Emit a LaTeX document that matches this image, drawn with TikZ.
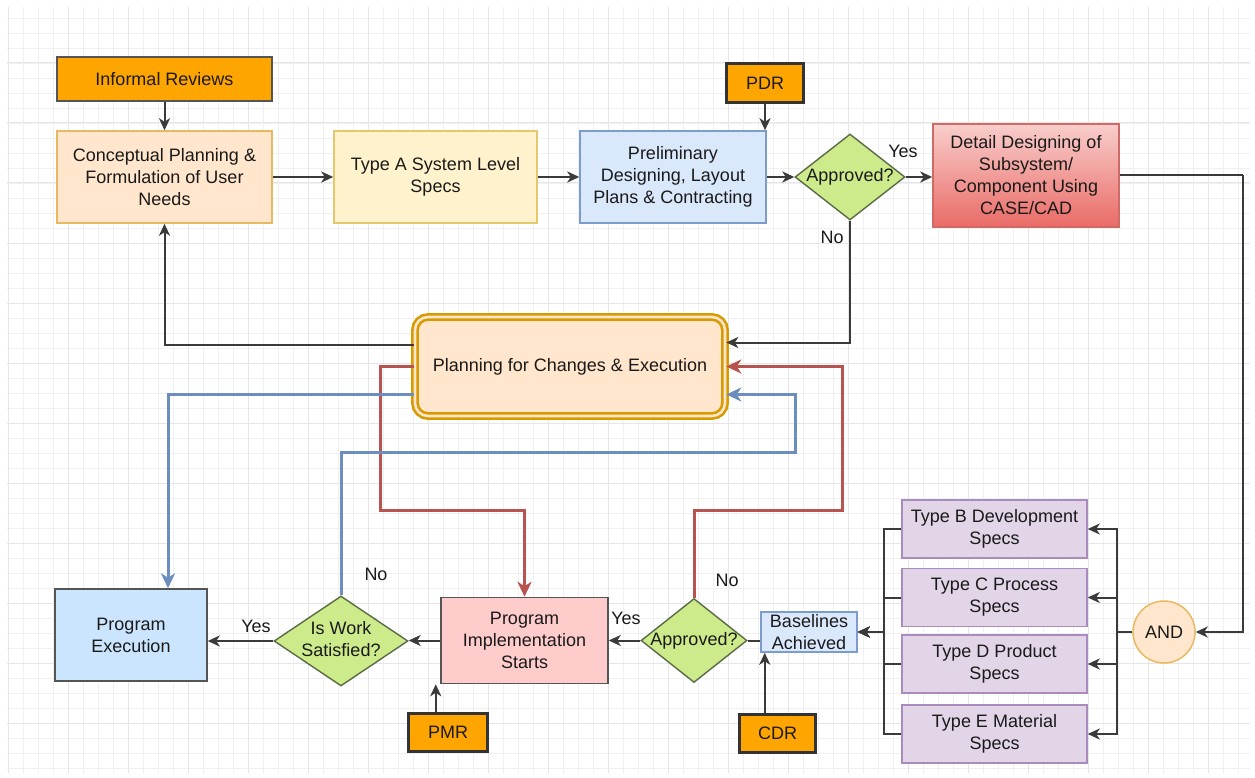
\documentclass[tikz,border=0pt]{standalone}
\usepackage{fontspec}
\setmainfont{Liberation Sans}
\usetikzlibrary{arrows.meta,shapes.geometric,calc}

\definecolor{txt}{HTML}{1A1A1A}
\definecolor{gridmin}{HTML}{F0F0F0}
\definecolor{gridmaj}{HTML}{E6E6E6}
\definecolor{orng}{HTML}{FFA500}
\definecolor{dgry}{HTML}{333333}
\definecolor{mgry}{HTML}{555555}
\definecolor{lnk}{HTML}{3A3A3A}
\definecolor{cpfill}{HTML}{FFE6CC}
\definecolor{cpbd}{HTML}{E8B960}
\definecolor{tafill}{HTML}{FFF2CC}
\definecolor{tabd}{HTML}{E3C86E}
\definecolor{bluefill}{HTML}{DAE8FC}
\definecolor{bluebd}{HTML}{7C9CCB}
\definecolor{grn}{HTML}{CDEB8B}
\definecolor{grnbd}{HTML}{5A6B45}
\definecolor{ddtop}{HTML}{F8CECC}
\definecolor{ddbot}{HTML}{EA6B66}
\definecolor{ddbd}{HTML}{D06A66}
\definecolor{gold}{HTML}{D79B00}
\definecolor{andbd}{HTML}{E8B960}
\definecolor{purfill}{HTML}{E1D5E7}
\definecolor{purbd}{HTML}{A98BBD}
\definecolor{pifill}{HTML}{FFCCCC}
\definecolor{pefill}{HTML}{CCE5FF}
\definecolor{redc}{HTML}{B85450}
\definecolor{bluec}{HTML}{6C8EBF}

\tikzset{
  base/.style={font=\fontsize{18pt}{22pt}\selectfont, text=txt, align=center, inner sep=2pt},
  box/.style={base, rectangle, draw, line width=1.5pt},
  review/.style={box, fill=orng, draw=dgry, line width=3.5pt},
  dia/.style={base, diamond, draw=grnbd, fill=grn, line width=1.4pt, inner sep=0pt},
  spec/.style={box, fill=purfill, draw=purbd, minimum width=185pt, minimum height=58pt},
  lab/.style={font=\fontsize{18pt}{22pt}\selectfont, text=txt, inner sep=0pt},
  conn/.style={draw=lnk, line width=2pt},
  arr/.style={conn, -{Stealth[length=12pt,width=11pt,inset=3.5pt]}},
  redarr/.style={draw=redc, line width=3pt, -{Stealth[length=15pt,width=14pt,inset=4.5pt]}},
  bluearr/.style={draw=bluec, line width=3pt, -{Stealth[length=15pt,width=14pt,inset=4.5pt]}},
}

\begin{document}
\begin{tikzpicture}[x=1pt,y=-1pt]
\useasboundingbox (0,0) rectangle (1255,778);
\fill[white] (0,0) rectangle (1255,778);

% background grid
\foreach \gx in {8,23,...,1250} \draw[gridmin, line width=0.9pt] (\gx,7) -- (\gx,773);
\foreach \gy in {18,33,...,773} \draw[gridmin, line width=0.9pt] (7,\gy) -- (1250,\gy);
\foreach \gx in {8,68,...,1250} \draw[gridmaj, line width=1pt] (\gx,7) -- (\gx,773);
\foreach \gy in {63,123,...,773} \draw[gridmaj, line width=1pt] (7,\gy) -- (1250,\gy);

% top row
\node[box, fill=orng, draw=mgry, minimum width=215pt, minimum height=44pt] (ir) at (164.5,79) {Informal Reviews};
\node[box, fill=cpfill, draw=cpbd, minimum width=215pt, minimum height=92pt] (cp) at (164.5,177)
  {Conceptual Planning \&\\Formulation of User\\Needs};
\node[box, fill=tafill, draw=tabd, minimum width=203pt, minimum height=92pt] (ta) at (435.5,177)
  {Type A System Level\\Specs};
\node[box, fill=bluefill, draw=bluebd, minimum width=186pt, minimum height=92pt] (pd) at (673,177)
  {Preliminary\\Designing, Layout\\Plans \& Contracting};
\node[review, minimum width=77pt, minimum height=39pt] (pdr) at (765,83) {PDR};
\node[dia, minimum width=110pt, minimum height=86pt] (ap1) at (850,177) {\makebox[0pt]{Approved?}};
\node[box, top color=ddtop, bottom color=ddbot, draw=ddbd, minimum width=186pt, minimum height=103pt] (dd) at (1026,175.5)
  {Detail Designing of\\Subsystem/\\Component Using\\CASE/CAD};

% central planning block
\node[base, draw=gold, line width=2.6pt, double=cpfill, double distance=2.6pt, fill=cpfill,
      rounded corners=13pt, minimum width=310pt, minimum height=99pt] (pc) at (570,366.5)
  {Planning for Changes \& Execution};

% right column
\node[base, circle, draw=andbd, fill=cpfill, line width=1.5pt, minimum size=62pt, inner sep=0pt] (and) at (1164,632) {AND};
\node[spec] (tb) at (994.5,529) {Type B Development\\Specs};
\node[spec] (tc) at (994.5,597.5) {Type C Process\\Specs};
\node[spec] (td) at (994.5,664) {Type D Product\\Specs};
\node[spec] (te) at (994.5,734) {Type E Material\\Specs};

% bottom row
\node[box, fill=bluefill, draw=bluebd, minimum width=96pt, minimum height=40pt, inner sep=0pt] (bl) at (809,632)
  {Baselines\\Achieved};
\node[review, minimum width=76pt, minimum height=38pt] (cdr) at (777.5,733.5) {CDR};
\node[dia, minimum width=106pt, minimum height=84pt] (ap2) at (694,640.5) {\makebox[0pt]{Approved?}};
\node[box, fill=pifill, draw=mgry, minimum width=167pt, minimum height=86pt] (pi) at (524.5,640.5)
  {Program\\Implementation\\Starts};
\node[review, minimum width=79pt, minimum height=38pt] (pmr) at (448,732.5) {PMR};
\node[dia, minimum width=134pt, minimum height=90pt] (iw) at (341,641)
  {\makebox[0pt]{\begin{tabular}{@{}c@{}}Is Work\\Satisfied?\end{tabular}}};
\node[box, fill=pefill, draw=mgry, minimum width=152pt, minimum height=92pt] (pe) at (131,635)
  {Program\\Execution};

% edge labels
\node[lab] (yes1) at (903,151) {Yes};
\node[lab] (no1) at (832,237) {No};
\node[lab] (no2) at (727,580) {No};
\node[lab] (yes2) at (626,618) {Yes};
\node[lab] (no3) at (376,574) {No};
\node[lab] (yes3) at (256,626) {Yes};

% bend points
\coordinate (rtx) at (1243,0);
\coordinate (busR) at (1117,0);
\coordinate (busL) at (884,0);
\coordinate (rd1) at (380,510);
\coordinate (ru1) at (842,510);
\coordinate (bu1) at (795,452);
\coordinate (cdrtop) at ([xshift=27pt]cdr.north west);
\coordinate (pmrtop) at ([xshift=29pt]pmr.north west);

% top row flow
\draw[arr] (ir) -- (cp);
\draw[arr] (cp) -- (ta);
\draw[arr] (ta) -- (pd);
\draw[arr] (pdr.south) -- (pdr.south |- pd.north);
\draw[arr] (pd.east) -- (ap1.west);
\draw[arr] (ap1.east) -- (dd.west |- ap1.east);
\draw[conn] (dd.east) -- (dd.east -| rtx);
\draw[arr] (dd.east -| rtx) |- (and.east);

% AND fan-out to the spec boxes
\foreach \s in {tb,tc,td,te}
  \draw[arr] (and.west) -- (and.west -| busR) |- (\s.east);

% spec boxes gathered into the baselines
\foreach \s in {tb,tc,td,te}
  \draw[arr] (\s.west) -- (\s.west -| busL) |- (bl.east);

\draw[arr] (cdrtop) -- (cdrtop |- bl.south);
\draw[conn] (bl.west |- ap2.east) -- (ap2.east);
\draw[arr] (ap2.west) -- (pi.east |- ap2.west);
\draw[arr] (pmrtop) -- (pmrtop |- pi.south);
\draw[arr] (pi.west) -- (pi.west -| iw.east);
\draw[arr] (iw.west) -- (iw.west -| pe.east);

% loops through the planning block
\draw[arr] (ap1.south) |- ([yshift=24pt]pc.east);
\draw[arr] ([yshift=22pt]pc.west) -| (cp.south);
\draw[redarr] (pc.west) -| (rd1) -| (pi.north);
\draw[redarr] (ap2.north) |- (ru1) |- (pc.east);
\draw[bluearr] ([yshift=-28pt]pc.west) -| ([xshift=37pt]pe.north);
\draw[bluearr] (iw.north) |- (bu1) |- ([yshift=-28pt]pc.east);
\end{tikzpicture}
\end{document}
